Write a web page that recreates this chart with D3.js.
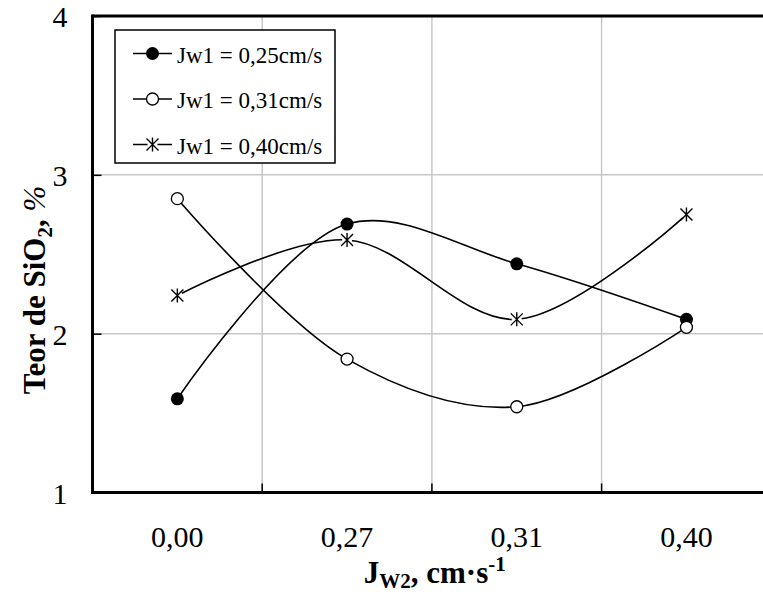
<!DOCTYPE html>
<html>
<head>
<meta charset="utf-8">
<script src="https://cdn.jsdelivr.net/npm/d3@7"></script>
<style>
  html, body { margin: 0; padding: 0; background: #fff; }
  svg { display: block; }
  text { font-family: "Liberation Serif", "Times New Roman", serif; fill: #000; }
</style>
</head>
<body>
<svg id="chart" width="763" height="594"></svg>
<script>
// ---- data ----
const categories = ["0,00", "0,27", "0,31", "0,40"];
const seriesNames = ["Jw1 = 0,25cm/s", "Jw1 = 0,31cm/s", "Jw1 = 0,40cm/s"];
const seriesMarkers = ["filled", "open", "star"];
const values025 = [1.59, 2.69, 2.44, 2.09];
const values031 = [2.85, 1.84, 1.54, 2.04];
const values040 = [2.24, 2.59, 2.09, 2.75];
const yTicks = [1, 2, 3, 4];

const series = [values025, values031, values040].map((v, i) => ({
  name: seriesNames[i], marker: seriesMarkers[i], values: v
}));

// ---- layout ----
const svg = d3.select("#chart");
const pLeft = 92.5, pTop = 16, pBottom = 492.5, band = 169.7;
const pRight = pLeft + band * categories.length;

const x = d3.scaleBand().domain(categories).range([pLeft, pRight]).paddingInner(0).paddingOuter(0);
const y = d3.scaleLinear().domain([1, 4]).range([pBottom, pTop]);

// grid
const grid = svg.append("g");
grid.selectAll("line.h").data([2, 3]).join("line")
  .attr("x1", pLeft).attr("x2", pRight)
  .attr("y1", d => y(d)).attr("y2", d => y(d))
  .attr("stroke", "#c8c8c8").attr("stroke-width", 1.5);
grid.selectAll("line.v").data(categories.slice(1)).join("line")
  .attr("x1", d => x(d)).attr("x2", d => x(d))
  .attr("y1", pTop).attr("y2", pBottom)
  .attr("stroke", "#c8c8c8").attr("stroke-width", 1.5);

// axes via d3
const yAxis = d3.axisLeft(y).tickValues(yTicks).tickSize(-9).tickPadding(25).tickFormat(d3.format("d"));
const gy = svg.append("g").attr("transform", `translate(${pLeft},0)`).call(yAxis);
gy.select(".domain").remove();
gy.selectAll(".tick line").attr("stroke", "#000").attr("stroke-width", 1.5);
gy.selectAll(".tick text").attr("font-size", 30).attr("font-family", "Liberation Serif").attr("dy", "0.35em");

const xAxis = d3.axisBottom(x).tickSize(0).tickPadding(33);
const gx = svg.append("g").attr("transform", `translate(0,${pBottom})`).call(xAxis);
gx.select(".domain").remove();
gx.selectAll(".tick text").attr("font-size", 30).attr("font-family", "Liberation Serif");
// x boundary ticks (between categories), pointing up
svg.append("g").selectAll("line").data(categories.slice(1)).join("line")
  .attr("x1", d => x(d)).attr("x2", d => x(d))
  .attr("y1", pBottom).attr("y2", pBottom - 9)
  .attr("stroke", "#000").attr("stroke-width", 1.5);

// frame lines: left, bottom, top
svg.append("line").attr("x1", pLeft).attr("x2", pLeft).attr("y1", pTop - 1.5).attr("y2", pBottom + 1.5)
  .attr("stroke", "#000").attr("stroke-width", 3);
svg.append("line").attr("x1", pLeft).attr("x2", pRight).attr("y1", pBottom).attr("y2", pBottom)
  .attr("stroke", "#000").attr("stroke-width", 3);
svg.append("line").attr("x1", pLeft).attr("x2", pRight).attr("y1", pTop).attr("y2", pTop)
  .attr("stroke", "#000").attr("stroke-width", 3);

// series lines
const line = d3.line()
  .x((d, i) => x(categories[i]) + x.bandwidth() / 2)
  .y(d => y(d))
  .curve(d3.curveCatmullRom.alpha(0.5));

svg.append("g").selectAll("path").data(series).join("path")
  .attr("d", d => line(d.values))
  .attr("fill", "none").attr("stroke", "#000").attr("stroke-width", 1.6);

function drawMarker(g, type, cx, cy) {
  if (type === "filled") {
    g.append("circle").attr("cx", cx).attr("cy", cy).attr("r", 6.5).attr("fill", "#000");
  } else if (type === "open") {
    g.append("circle").attr("cx", cx).attr("cy", cy).attr("r", 6).attr("fill", "#fff")
      .attr("stroke", "#000").attr("stroke-width", 1.3);
  } else {
    g.append("circle").attr("cx", cx).attr("cy", cy).attr("r", 5).attr("fill", "#fff");
    const s = 6;
    g.append("path")
      .attr("d", `M${cx - s},${cy - s}L${cx + s},${cy + s}M${cx - s},${cy + s}L${cx + s},${cy - s}M${cx},${cy - s - 1}L${cx},${cy + s + 1}`)
      .attr("stroke", "#000").attr("stroke-width", 1.4).attr("fill", "none");
  }
}

const mk = svg.append("g");
series.forEach(s => {
  s.values.forEach((v, i) => {
    drawMarker(mk, s.marker, x(categories[i]) + x.bandwidth() / 2, y(v));
  });
});

// legend
const lg = svg.append("g");
lg.append("rect").attr("x", 115).attr("y", 30).attr("width", 220).attr("height", 133)
  .attr("fill", "#fff").attr("stroke", "#000").attr("stroke-width", 1.5);
const rowY = [53.5, 99, 144.5];
series.forEach((s, i) => {
  const cy = rowY[i];
  lg.append("line").attr("x1", 133).attr("x2", 172).attr("y1", cy).attr("y2", cy)
    .attr("stroke", "#000").attr("stroke-width", 1.6);
  drawMarker(lg, s.marker, 152.5, cy);
  lg.append("text").attr("x", 177).attr("y", cy + 9).attr("font-size", 23).text(s.name);
});

// y axis title
const yt = svg.append("text")
  .attr("transform", "translate(45,290) rotate(-90)")
  .attr("text-anchor", "middle")
  .attr("font-size", 31).attr("font-weight", "bold");
yt.append("tspan").text("Teor de SiO");
yt.append("tspan").attr("font-size", 21).attr("dy", 7).text("2");
yt.append("tspan").attr("dy", -7).text(",  ");
yt.append("tspan").attr("font-style", "italic").attr("font-weight", "normal").text("%");

// x axis title
const xt = svg.append("text")
  .attr("x", (pLeft + 763) / 2 + 7).attr("y", 583)
  .attr("text-anchor", "middle")
  .attr("font-size", 31).attr("font-weight", "bold");
xt.append("tspan").text("J");
xt.append("tspan").attr("font-size", 21).attr("dy", 5).text("W2");
xt.append("tspan").attr("dy", -5).text(", cm·s");
xt.append("tspan").attr("font-size", 21).attr("dy", -12).text("-1");
</script>
</body>
</html>
